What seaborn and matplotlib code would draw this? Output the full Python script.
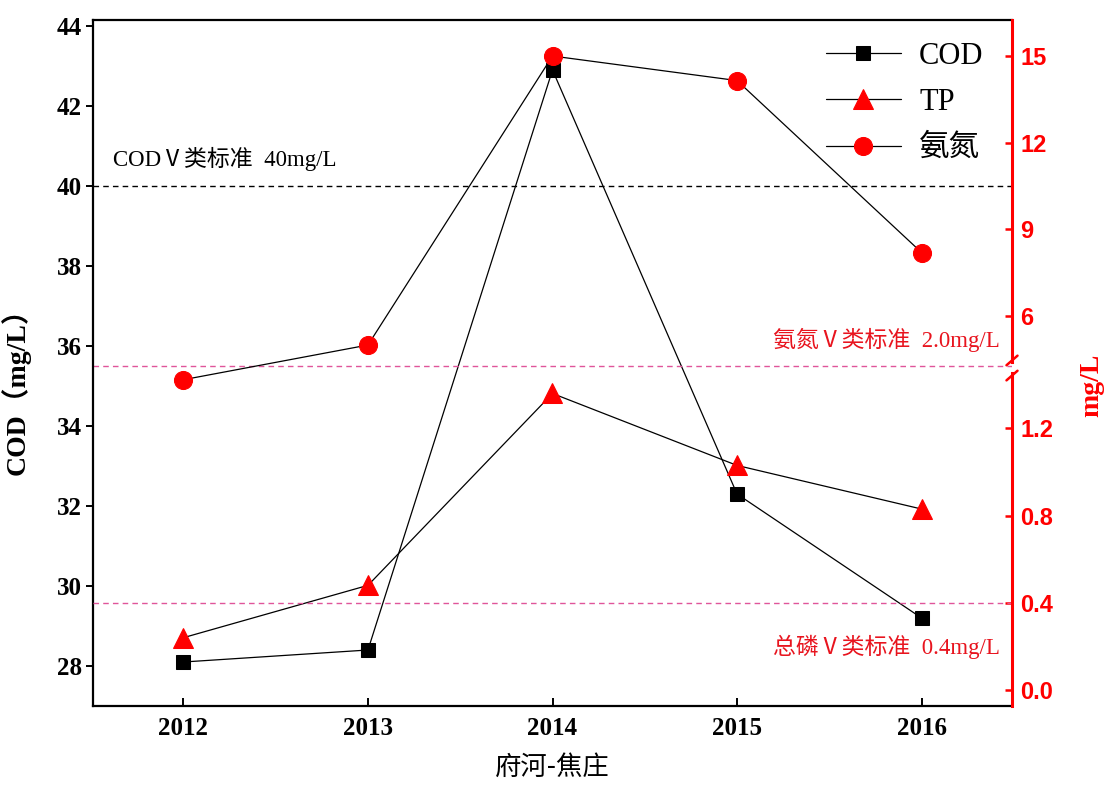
import matplotlib

matplotlib.use("Agg")
import matplotlib.pyplot as plt
import seaborn as sns
from matplotlib.font_manager import FontProperties

years = [2012, 2013, 2014, 2015, 2016]
cod = [28.1, 28.4, 42.9, 32.3, 29.2]
tp = [0.24, 0.48, 1.36, 1.03, 0.83]
nh3 = [3.8, 5.0, 15.0, 14.15, 8.2]

cod_ticks = [28, 30, 32, 34, 36, 38, 40, 42, 44]
tp_ticks = [0.0, 0.4, 0.8, 1.2]
tp_tick_labels = ["0.0", "0.4", "0.8", "1.2"]
nh3_ticks = [6, 9, 12, 15]

cod_standard = 40
tp_standard = 0.4
nh3_standard_line = 35.5  # drawn at the axis break, on the COD scale

RED = "#FF0000"
PINK = "#E0559A"

sns.set_style("ticks")
plt.rcParams["font.family"] = ["Liberation Serif", "Noto Sans CJK SC", "DejaVu Sans"]
plt.rcParams["axes.unicode_minus"] = False
plt.rcParams["text.color"] = "black"
plt.rcParams["axes.labelcolor"] = "black"
plt.rcParams["xtick.color"] = "black"
plt.rcParams["ytick.color"] = "black"

W, H = 1105, 787
fig = plt.figure(figsize=(W / 100, H / 100), dpi=100)
left, right, top, bottom = 93, 1012, 20, 706
ax = fig.add_axes([left / W, 1 - bottom / H, (right - left) / W, (bottom - top) / H])

ax_tp = ax.twinx()
ax_nh = ax.twinx()

# COD on the left axis
sns.lineplot(x=years, y=cod, ax=ax, color="black", linewidth=0.9, marker="s",
             markersize=10.5, markerfacecolor="black", markeredgecolor="black",
             label="COD", legend=False)
# TP on the lower part of the broken right axis
sns.lineplot(x=years, y=tp, ax=ax_tp, color="black", linewidth=0.9, marker="^",
             markersize=14, markerfacecolor=RED, markeredgecolor=RED,
             label="TP", legend=False, clip_on=False)
# ammonia on the upper part
sns.lineplot(x=years, y=nh3, ax=ax_nh, color="black", linewidth=0.9, marker="o",
             markersize=13, markerfacecolor=RED, markeredgecolor=RED,
             label="氨氮", legend=False, clip_on=False)

ax.set_xlim(2011.51, 2016.49)
ax.set_ylim(27.0, 44.15)
ax_tp.set_ylim(-0.0734, 3.073)
ax_nh.set_ylim(-7.49, 16.246)

# reference lines
ax.axhline(cod_standard, color="black", linestyle=(0, (4, 3)), linewidth=1.0)
ax.axhline(nh3_standard_line, color=PINK, linestyle=(0, (4, 3)), linewidth=1.0)
ax_tp.axhline(tp_standard, color=PINK, linestyle=(0, (4, 3)), linewidth=1.0)

cjk_serif = ["Liberation Serif", "Noto Sans CJK SC"]
ax.text(0.022, 0.797, "CODⅤ类标准  40mg/L", transform=ax.transAxes, fontsize=16.5,
        family=cjk_serif, va="center", ha="left", color="black")
ax.text(0.987, 0.533, "氨氮Ⅴ类标准  2.0mg/L", transform=ax.transAxes, fontsize=16.5,
        family=cjk_serif, va="center", ha="right", color="#E8141E")
ax.text(0.987, 0.086, "总磷Ⅴ类标准  0.4mg/L", transform=ax.transAxes, fontsize=16.5,
        family=cjk_serif, va="center", ha="right", color="#E8141E")

# spines
for side in ["left", "bottom", "top"]:
    ax.spines[side].set_color("black")
    ax.spines[side].set_linewidth(1.6)
ax.spines["right"].set_visible(False)
for a in (ax_tp, ax_nh):
    for side in ["left", "bottom", "top"]:
        a.spines[side].set_visible(False)
    a.spines["right"].set_color(RED)
    a.spines["right"].set_linewidth(2.2)
ax_tp.spines["right"].set_bounds(-0.0734, 1.454)
ax_nh.spines["right"].set_bounds(4.41, 16.246)

# break marks on the right axis
brk = 0.4927
for dy in (-0.011, 0.011):
    ax_nh.plot([0.994, 1.006], [brk + dy - 0.007, brk + dy + 0.007], transform=ax_nh.transAxes,
               color=RED, linewidth=1.8, clip_on=False)

# ticks
bold_serif = FontProperties(family="Liberation Serif", weight="bold", size=18)
bold_sans = FontProperties(family="Liberation Sans", weight="bold", size=17)

ax.set_xticks(years)
ax.set_xticklabels([str(y) for y in years], fontproperties=bold_serif)
ax.set_yticks(cod_ticks)
ax.set_yticklabels([str(v) for v in cod_ticks], fontproperties=bold_serif)
ax.tick_params(axis="x", direction="in", length=6, width=1.4, pad=8)
ax.tick_params(axis="y", direction="out", length=5, width=1.4, pad=3)

ax_tp.set_yticks(tp_ticks)
ax_tp.set_yticklabels(tp_tick_labels, fontproperties=bold_sans, color=RED)
ax_nh.set_yticks(nh3_ticks)
ax_nh.set_yticklabels([str(v) for v in nh3_ticks], fontproperties=bold_sans, color=RED)
for a in (ax_tp, ax_nh):
    a.tick_params(axis="y", direction="in", length=5, width=1.8, color=RED, pad=6)
    a.set_ylabel("")
    a.grid(False)
ax.grid(False)

# axis labels
ax.set_ylabel("COD（mg/L）", fontsize=20, fontweight="bold", family=cjk_serif)
ax.yaxis.set_label_coords(-0.068, 0.468)
ax.set_xlabel("府河-焦庄", fontsize=19, family=["Noto Sans CJK SC"])
ax.xaxis.set_label_coords(0.5, -0.07)
fig.text(1092 / W, 1 - 385 / H, "mg/L", rotation=90, fontsize=20, fontweight="bold",
         color=RED, family="Liberation Serif", ha="center", va="center")

# legend
handles = ax.get_lines()[:1] + ax_tp.get_lines()[:1] + ax_nh.get_lines()[:1]
leg = ax_nh.legend(handles=handles, labels=["COD", "TP", "氨氮"], loc="upper left",
                   bbox_to_anchor=(826 / W, 1 - 42 / H), bbox_transform=fig.transFigure,
                   frameon=False, prop=FontProperties(family=cjk_serif, size=22),
                   handlelength=2.45, handletextpad=0.6, labelspacing=0.56,
                   borderpad=0, borderaxespad=0)

fig.savefig("out.png", dpi=100)
